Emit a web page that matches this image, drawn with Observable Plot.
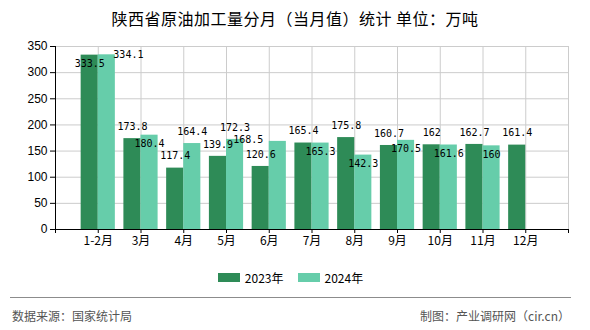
<!DOCTYPE html>
<html>
<head>
<meta charset="utf-8">
<script src="https://cdn.jsdelivr.net/npm/d3@7"></script>
<script src="https://cdn.jsdelivr.net/npm/@observablehq/plot@0.6"></script>
<style>
  html, body { margin: 0; padding: 0; background: #fff; }
  #wrap { position: relative; width: 590px; height: 330px; overflow: hidden; background: #fff;
          font-family: "Noto Sans CJK SC", "Noto Sans", sans-serif; }
  #title { position: absolute; top: 8px; left: 0; width: 590px; height: 21px; line-height: 21px;
           text-align: center; font-size: 16px; letter-spacing: 0.5px; color: #000; }
  #chart { position: absolute; top: 30px; left: 0; }
  #legend { position: absolute; top: 269px; left: 0; width: 581px; height: 16px;
            display: flex; justify-content: center; align-items: center; font-size: 12px; color: #000; }
  .item { display: flex; align-items: center; margin: 0 7px; }
  .sw { width: 22px; height: 9px; margin-right: 5px; }
  #rule { position: absolute; top: 297px; left: 10px; width: 561px; border-top: 1px solid #8c8c8c; }
  .foot { position: absolute; top: 307px; font-size: 12px; color: #555; line-height: 18px; }
</style>
</head>
<body>
<div id="wrap">
  <div id="title"></div>
  <div id="chart"></div>
  <div id="legend"></div>
  <div id="rule"></div>
  <div class="foot" id="src" style="left:12px;"></div>
  <div class="foot" id="credit" style="right:20px;"></div>
</div>
<script>
// ---- data ----
const titleText = "陕西省原油加工量分月（当月值）统计 单位：万吨";
const months = ["1-2月","3月","4月","5月","6月","7月","8月","9月","10月","11月","12月"];
const values2023 = [333.5,173.8,117.4,139.9,120.6,165.4,175.8,160.7,162,162.7,161.4];
const values2024 = [334.1,180.4,164.4,172.3,168.5,165.3,142.3,170.5,161.6,160,null];
const seriesNames = ["2023年","2024年"];
const seriesColors = ["#2E8B57","#66CDAA"];
const yTicks = [0,50,100,150,200,250,300,350];
const sourceText = "数据来源：国家统计局";
const creditText = "制图：产业调研网（cir.cn）";

// ---- layout ----
const W = 590, H = 240, mL = 55, mR = 22, mT = 16, mB = 41;
const barW = 0.4;

document.getElementById("title").textContent = titleText;
document.getElementById("src").textContent = sourceText;
document.getElementById("credit").textContent = creditText;

// legend
const lg = document.getElementById("legend");
seriesNames.forEach((n, i) => {
  const it = document.createElement("div"); it.className = "item";
  const sw = document.createElement("div"); sw.className = "sw"; sw.style.background = seriesColors[i];
  const tx = document.createElement("span"); tx.textContent = n;
  it.appendChild(sw); it.appendChild(tx); lg.appendChild(it);
});

// rows
const rows = [];
[values2023, values2024].forEach((vals, s) => {
  vals.forEach((v, i) => {
    if (v == null) return;
    const c = i + 1;
    const x1 = s === 0 ? c - barW : c;
    rows.push({ month: months[i], series: seriesNames[s], s, value: v, x1, x2: x1 + barW });
  });
});

const xDomain = [0, 12], yDomain = [0, 350];
const xs = d3.scaleLinear(xDomain, [mL, W - mR]);
const ys = d3.scaleLinear(yDomain, [H - mB, mT]);

// label placement (pixel space via scales), then back to data space
const charW = 6.02, hitCharW = 5.8, boxH = 11.5;
const placed = [];
const labels = [];
const ordered = [...rows].sort((a, b) => a.s - b.s || a.x1 - b.x1);
for (const r of ordered) {
  const txt = String(r.value);
  const w = txt.length * charW;
  const hw = txt.length * hitCharW;
  const left = xs(r.x1), right = xs(r.x2), cx = (left + right) / 2, top = ys(r.value);
  const cands = [
    { cx, cy: top - 12 },
    { cx, cy: top + 8.5 },
    { cx: right - 2 + w / 2, cy: top },
    { cx: left - 6 - w / 2, cy: top - 2 }
  ];
  let pick = null;
  for (const c of cands) {
    if (c.cy - boxH / 2 < mT - 2) continue;
    const hit = placed.some(p => Math.abs(p.cx - c.cx) < (p.hw + hw) / 2 && Math.abs(p.cy - c.cy) < boxH);
    if (!hit) { pick = c; break; }
  }
  if (!pick) pick = cands[0];
  placed.push({ cx: pick.cx, cy: pick.cy, hw });
  labels.push({ text: txt, x: xs.invert(pick.cx), y: ys.invert(pick.cy) });
}

const plot = Plot.plot({
  width: W, height: H,
  marginLeft: mL, marginRight: mR, marginTop: mT, marginBottom: mB,
  style: { background: "#fff", color: "#000", fontFamily: "Liberation Sans, Arial, sans-serif", fontSize: "12px" },
  x: { type: "linear", domain: xDomain },
  y: { type: "linear", domain: yDomain },
  marks: [
    Plot.gridY(yTicks, { stroke: "#cccccc", strokeOpacity: 1 }),
    Plot.gridX(d3.range(1, 13), { stroke: "#cccccc", strokeOpacity: 1 }),
    Plot.rect(rows, { x1: "x1", x2: "x2", y1: 0, y2: "value", fill: d => seriesColors[d.s] }),
    Plot.ruleX([0], { stroke: "#000" }),
    Plot.ruleY([0], { stroke: "#000" }),
    Plot.axisY(yTicks, { tickSize: 5, tickPadding: 3, fontSize: 12, label: null, stroke: "#000", fill: "#000" }),
    Plot.axisX(d3.range(0, 13), { tickSize: 4, tickPadding: 3, label: null, stroke: "#000", fill: "#000",
      fontFamily: "Noto Sans CJK SC, sans-serif", fontSize: 12,
      tickFormat: i => (i >= 1 && i <= months.length ? months[i - 1] : "") }),
    Plot.text(labels, { x: "x", y: "y", text: "text", fill: "#000", fontSize: 10,
      fontFamily: "DejaVu Sans Mono, monospace", textAnchor: "middle", lineAnchor: "middle" })
  ]
});
document.getElementById("chart").appendChild(plot);
</script>
</body>
</html>
